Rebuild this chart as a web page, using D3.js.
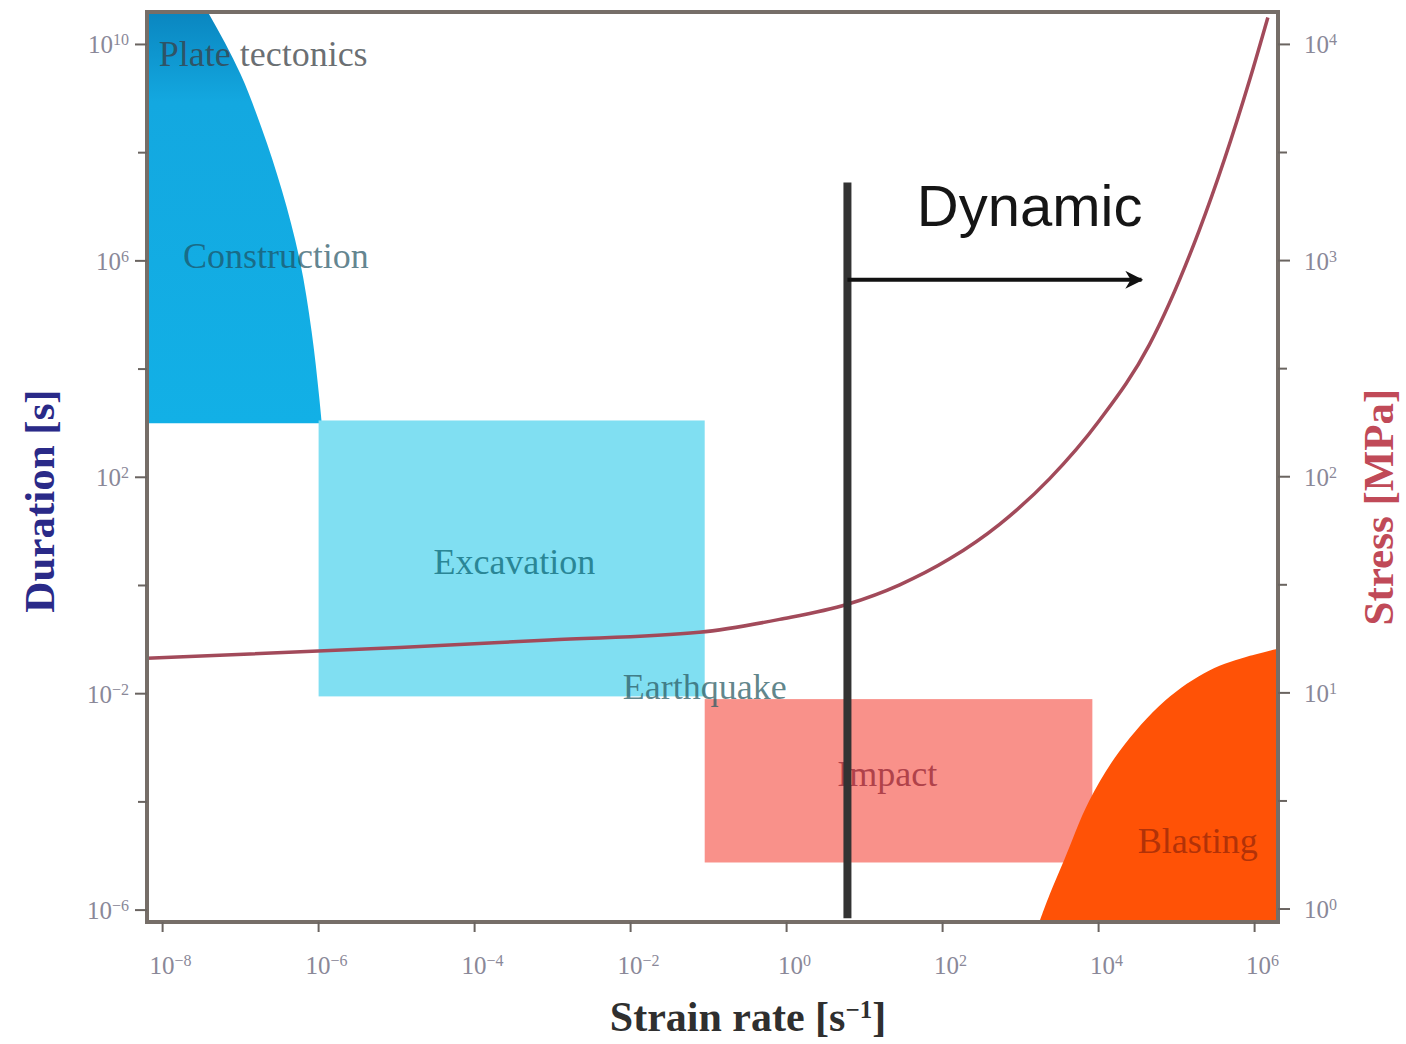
<!DOCTYPE html>
<html>
<head>
<meta charset="utf-8">
<script src="https://cdn.jsdelivr.net/npm/d3@7"></script>
<style>
  body { margin: 0; background: #fff; }
  svg { display: block; }
</style>
</head>
<body>
<svg id="chart"></svg>
<script>
// values are base-10 exponents
const strainTicks = [-8, -6, -4, -2, 0, 2, 4, 6];
const durationTicks = [10, 6, 2, -2, -6];
const durationMinor = [8, 4, 0, -4];
const stressTicks = [4, 3, 2, 1, 0];
const stressMinor = [3.5, 2.5, 1.5, 0.5];

// plate tectonics / construction zone: right boundary
const constructionDur = [10.6, 9.45, 8.45, 7.3, 6.0, 4.7, 3.45, 3.0];
const constructionRate = [-7.42, -7.0, -6.73, -6.47, -6.24, -6.09, -5.99, -5.96];

// excavation and impact boxes [rateMin, rateMax, durMin, durMax]
const excavationBox = [-6, -1.05, -2.05, 3.05];
const impactBox = [-1.05, 3.92, -5.12, -2.1];

// blasting zone: upper boundary
const blastingRate = [3.24, 3.37, 3.56, 3.88, 4.27, 4.85, 5.42, 5.94, 6.3];
const blastingDur = [-6.22, -5.72, -5.07, -3.98, -3.06, -2.13, -1.57, -1.3, -1.17];

// stress curve (right axis)
const stressRate = [-8.2, -4.96, -3.04, -1.12, -0.09, 0.78, 1.45, 2.09, 2.73, 3.37, 4.01, 4.65, 5.29, 5.94, 6.17];
const stressVal = [1.16, 1.21, 1.245, 1.28, 1.34, 1.41, 1.5, 1.62, 1.78, 1.99, 2.26, 2.61, 3.14, 3.84, 4.125];

// dynamic threshold
const dynamicRate = 0.78;
const dynamicDur = [7.45, -6.15];
const arrowDur = 5.65;
const arrowEndRate = 4.55;

const p = e => Math.pow(10, e);

const width = 1406, height = 1044;
const margin = {top: 12, left: 147, right: 128, bottom: 122};

const svg = d3.select('#chart').attr('width', width).attr('height', height);

const x = d3.scaleLog().domain([p(-8.2), p(6.3)]).range([margin.left, width - margin.right]);
const yDur = d3.scaleLog().domain([p(-6.22), p(10.6)]).range([height - margin.bottom, margin.top]);
const yStress = d3.scaleLog().domain([p(-0.06), p(4.15)]).range([height - margin.bottom, margin.top]);

const x0 = x.range()[0], x1 = x.range()[1];
const yB = yDur.range()[0], yT = yDur.range()[1];

const defs = svg.append('defs');
const grad = defs.append('linearGradient').attr('id', 'blueGrad')
  .attr('x1', 0).attr('y1', 0).attr('x2', 0).attr('y2', 1);
grad.append('stop').attr('offset', '0%').attr('stop-color', '#0a86c0');
grad.append('stop').attr('offset', '22%').attr('stop-color', '#13a8e0');
grad.append('stop').attr('offset', '100%').attr('stop-color', '#12b0e6');

defs.append('marker').attr('id', 'arrow')
  .attr('viewBox', '0 0 10 10').attr('refX', 9).attr('refY', 5)
  .attr('markerWidth', 4.5).attr('markerHeight', 4.5).attr('orient', 'auto')
  .append('path').attr('d', 'M0,0 L10,5 L0,10 L3,5 Z').attr('fill', '#111');

const plot = svg.append('g');

// construction zone
const blueData = constructionDur.map((d, i) => ({dur: p(d), rate: p(constructionRate[i])}));
plot.append('path')
  .datum(blueData)
  .attr('fill', 'url(#blueGrad)')
  .attr('d', d3.area()
    .y(d => yDur(d.dur))
    .x0(x0)
    .x1(d => x(d.rate))
    .curve(d3.curveMonotoneY));

// boxes
function box(b, color) {
  plot.append('rect')
    .attr('x', x(p(b[0])))
    .attr('y', yDur(p(b[3])))
    .attr('width', x(p(b[1])) - x(p(b[0])))
    .attr('height', yDur(p(b[2])) - yDur(p(b[3])))
    .attr('fill', color);
}
box(excavationBox, '#80dff2');
box(impactBox, '#f9918a');

// blasting
const orangeData = blastingRate.map((r, i) => ({rate: p(r), dur: p(blastingDur[i])}));
plot.append('path')
  .datum(orangeData)
  .attr('fill', '#ff5206')
  .attr('d', d3.area()
    .x(d => x(d.rate))
    .y0(yB)
    .y1(d => yDur(d.dur))
    .curve(d3.curveCatmullRom));

// stress curve
const stressData = stressRate.map((r, i) => ({rate: p(r), s: p(stressVal[i])}));
plot.append('path')
  .datum(stressData)
  .attr('fill', 'none')
  .attr('stroke', '#a24a5a')
  .attr('stroke-width', 3.5)
  .attr('d', d3.line().x(d => x(d.rate)).y(d => yStress(d.s)).curve(d3.curveMonotoneX));

// labels
const serif = 'Liberation Serif, Times New Roman, serif';
function label(txt, rate, dur, anchor, color, size, opacity) {
  plot.append('text')
    .attr('x', x(p(rate))).attr('y', yDur(p(dur)))
    .attr('text-anchor', anchor)
    .attr('font-family', serif)
    .attr('font-size', size)
    .attr('fill', color)
    .attr('fill-opacity', opacity)
    .text(txt);
}
label('Plate tectonics', -8.05, 9.6, 'start', '#3a3f45', 36, 0.75);
label('Construction', -7.74, 5.87, 'start', '#1d4f60', 36, 0.7);
label('Excavation', -3.49, 0.22, 'middle', '#2a8696', 36, 1);
label('Earthquake', -1.05, -2.09, 'middle', '#2e5e66', 36, 0.75);
label('Impact', 1.29, -3.7, 'middle', '#b0424a', 36, 1);
label('Blasting', 5.27, -4.94, 'middle', '#b23208', 36, 1);

// dynamic threshold line and arrow
plot.append('line')
  .attr('x1', x(p(dynamicRate))).attr('x2', x(p(dynamicRate)))
  .attr('y1', yDur(p(dynamicDur[0]))).attr('y2', yDur(p(dynamicDur[1])))
  .attr('stroke', '#333').attr('stroke-width', 8);

plot.append('line')
  .attr('x1', x(p(dynamicRate))).attr('x2', x(p(arrowEndRate)))
  .attr('y1', yDur(p(arrowDur))).attr('y2', yDur(p(arrowDur)))
  .attr('stroke', '#111').attr('stroke-width', 4)
  .attr('marker-end', 'url(#arrow)');

plot.append('text')
  .attr('x', x(p(1.67))).attr('y', yDur(p(6.65)))
  .attr('font-family', 'Liberation Sans, Arial, sans-serif')
  .attr('font-size', 58)
  .attr('fill', '#151515')
  .text('Dynamic');

// frame
svg.append('rect')
  .attr('x', x0).attr('y', yT)
  .attr('width', x1 - x0).attr('height', yB - yT)
  .attr('fill', 'none').attr('stroke', '#766e68').attr('stroke-width', 4);

// ticks
const tickColor = '#6a6460';
const labelColor = '#8a8898';

function supLabel(g, exp, anchor) {
  const t = g.append('text')
    .attr('text-anchor', anchor)
    .attr('font-family', serif)
    .attr('font-size', 25)
    .attr('fill', labelColor);
  t.append('tspan').text('10');
  t.append('tspan').attr('baseline-shift', 'super').attr('font-size', 16)
    .text(exp < 0 ? '\u2212' + (-exp) : String(exp));
  return t;
}

// bottom
strainTicks.forEach(e => {
  const g = svg.append('g').attr('transform', `translate(${x(p(e))},${yB})`);
  g.append('line').attr('y1', 0).attr('y2', 10).attr('stroke', tickColor).attr('stroke-width', 2);
  supLabel(g, e, 'middle').attr('x', 8).attr('y', 52);
});

// left
durationTicks.forEach(e => {
  const g = svg.append('g').attr('transform', `translate(${x0},${yDur(p(e))})`);
  g.append('line').attr('x1', 0).attr('x2', -12).attr('stroke', tickColor).attr('stroke-width', 2);
  supLabel(g, e, 'end').attr('x', -18).attr('y', 9);
});
durationMinor.forEach(e => {
  svg.append('line')
    .attr('x1', x0).attr('x2', x0 - 9)
    .attr('y1', yDur(p(e))).attr('y2', yDur(p(e)))
    .attr('stroke', tickColor).attr('stroke-width', 2);
});

// right
stressTicks.forEach(e => {
  const g = svg.append('g').attr('transform', `translate(${x1},${yStress(p(e))})`);
  g.append('line').attr('x1', 0).attr('x2', 12).attr('stroke', tickColor).attr('stroke-width', 2);
  supLabel(g, e, 'start').attr('x', 26).attr('y', 9);
});
stressMinor.forEach(e => {
  svg.append('line')
    .attr('x1', x1).attr('x2', x1 + 9)
    .attr('y1', yStress(p(e))).attr('y2', yStress(p(e)))
    .attr('stroke', tickColor).attr('stroke-width', 2);
});

// axis titles
svg.append('text')
  .attr('transform', `translate(54,${(yT + yB) / 2 + 34}) rotate(-90)`)
  .attr('text-anchor', 'middle')
  .attr('font-family', serif).attr('font-weight', 'bold').attr('font-size', 43)
  .attr('fill', '#2a2a88')
  .text('Duration [s]');

svg.append('text')
  .attr('transform', `translate(1393,${(yT + yB) / 2 + 40}) rotate(-90)`)
  .attr('text-anchor', 'middle')
  .attr('font-family', serif).attr('font-weight', 'bold').attr('font-size', 43)
  .attr('fill', '#c04a58')
  .text('Stress [MPa]');

const xt = svg.append('text')
  .attr('x', 748).attr('y', 1031)
  .attr('text-anchor', 'middle')
  .attr('font-family', serif).attr('font-weight', 'bold').attr('font-size', 42)
  .attr('fill', '#2f2f2f');
xt.append('tspan').text('Strain rate [s');
xt.append('tspan').attr('baseline-shift', 'super').attr('font-size', 25).text('\u22121');
xt.append('tspan').text(']');
</script>
</body>
</html>
